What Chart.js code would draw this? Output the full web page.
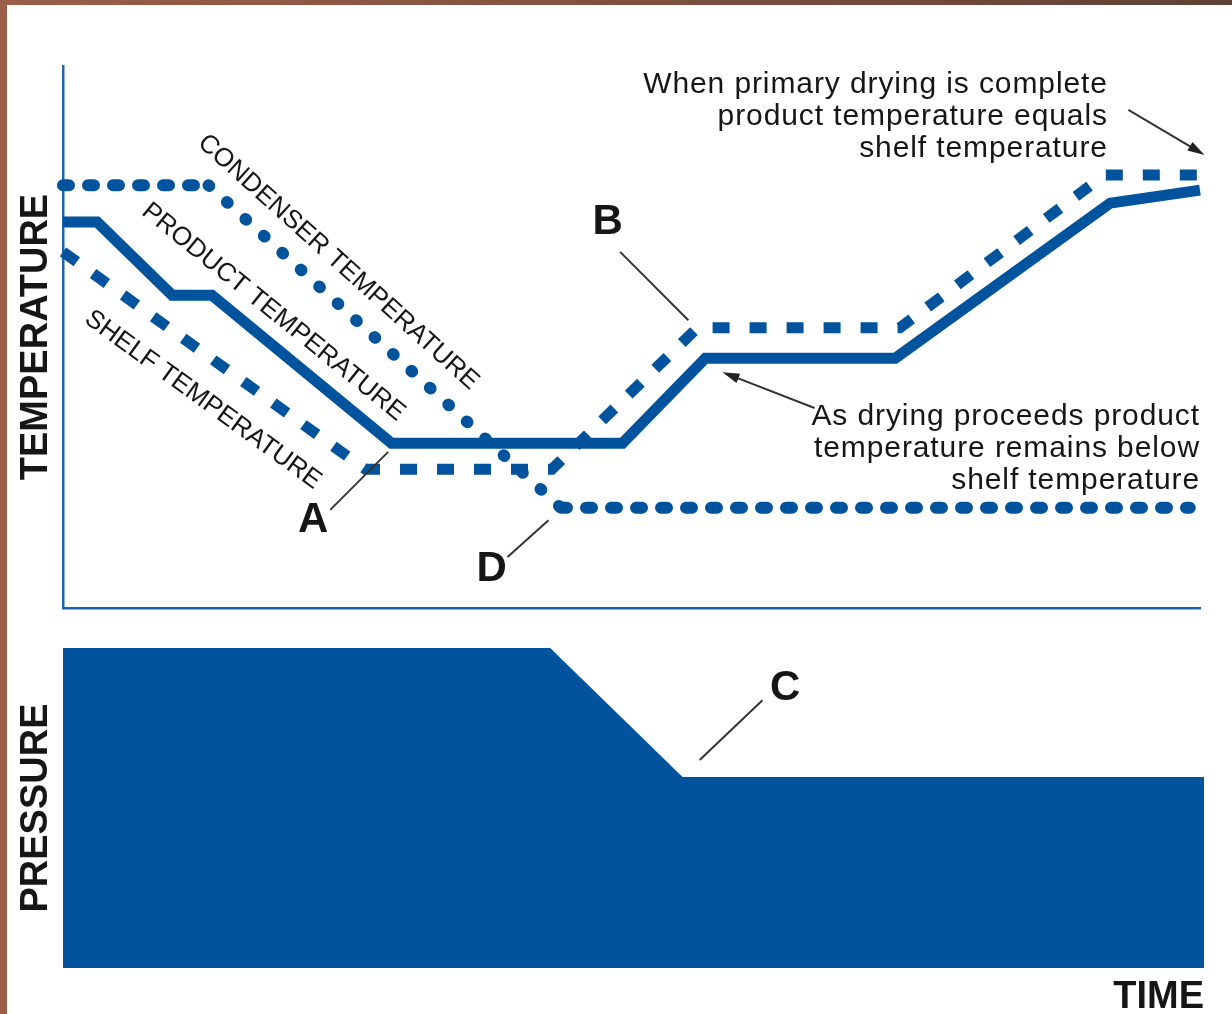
<!DOCTYPE html>
<html>
<head>
<meta charset="utf-8">
<title>Freeze drying cycle</title>
<script src="https://cdn.jsdelivr.net/npm/chart.js@4"></script>
<style>
  html, body { margin: 0; padding: 0; }
  body {
    width: 1232px; height: 1014px; overflow: hidden; position: relative;
    background: linear-gradient(90deg, #9b5e49, #8a5543 35%, #5f4236);
  }
  #sheet { position: absolute; left: 7px; top: 5px; width: 1225px; height: 1009px; background: #fff; }
  canvas { position: absolute; left: 0; }
  #tempChart { top: 0; }
  #pressureChart { top: 615px; }
</style>
</head>
<body>
<div id="sheet">
  <canvas id="tempChart" width="1225" height="615"></canvas>
  <canvas id="pressureChart" width="1225" height="394"></canvas>
</div>
<script>
// time runs 0..100, temperature and pressure 0..100 (no units on the original)
const shelfTime = [0, 26.6, 43.0, 55.8, 73.6, 91.6, 100];
const shelfTemp = [65.7, 25.6, 25.6, 51.7, 51.7, 79.9, 79.9];

const productTime = [0, 3.0, 9.6, 13.1, 28.9, 49.2, 56.5, 73.2, 92.1, 100];
const productTemp = [71.2, 71.2, 57.7, 57.7, 30.4, 30.4, 46.1, 46.1, 74.7, 77.1];

const condenserTime = [0, 12.8, 43.8, 99.1];
const condenserTemp = [78.0, 78.0, 18.5, 18.5];

const pressureTime = [0, 42.7, 54.3, 100];
const pressureValue = [100, 100, 59.7, 59.7];

const BLUE = '#00539c';
const AXIS = '#2263ad';
const INK = '#161616';
const FONT = "'Liberation Sans', Arial, sans-serif";

function points(xs, ys) {
    return xs.map((t, i) => ({ x: t, y: ys[i] }));
}

// notes for the temperature panel (positions in data units)
const tempNotes = {
    letters: [['A', 22.0, 16.1], ['B', 47.9, 71.2], ['D', 37.7, 7.2]],
    leaders: [[23.5, 18.1, 28.6, 28.8], [49.0, 65.7, 55.0, 53.1], [39.1, 9.4, 42.7, 16.2]],
    arrows: [[93.7, 91.9, 100.4, 83.6], [66.1, 36.9, 58.0, 43.5]],
    blocks: [
        { x: 91.9, y: [95.0, 89.1, 83.2], lines: ['When primary drying is complete', 'product temperature equals', 'shelf temperature'] },
        { x: 100, y: [33.8, 27.9, 22.0], lines: ['As drying proceeds product', 'temperature remains below', 'shelf temperature'] }
    ],
    curveLabels: [
        ['CONDENSER TEMPERATURE', 24.2, 63.8, 42],
        ['PRODUCT TEMPERATURE', 18.5, 54.6, 39],
        ['SHELF TEMPERATURE', 12.3, 38.4, 36]
    ]
};

const pressureNotes = {
    letters: [['C', 63.3, 87.5]],
    leaders: [[61.3, 83.7, 55.8, 65.0]],
    arrows: [], blocks: [], curveLabels: []
};

function notesPlugin(notes) {
    return {
        id: 'notes',
        afterDatasetsDraw(chart) {
            const { ctx, scales: { x, y } } = chart;
            const px = v => x.getPixelForValue(v);
            const py = v => y.getPixelForValue(v);
            ctx.save();
            ctx.strokeStyle = '#333';
            ctx.fillStyle = '#222';
            ctx.lineWidth = 2;
            notes.leaders.forEach(l => {
                ctx.beginPath();
                ctx.moveTo(px(l[0]), py(l[1]));
                ctx.lineTo(px(l[2]), py(l[3]));
                ctx.stroke();
            });
            notes.arrows.forEach(a => {
                const x1 = px(a[0]), y1 = py(a[1]), x2 = px(a[2]), y2 = py(a[3]);
                const ang = Math.atan2(y2 - y1, x2 - x1);
                ctx.beginPath();
                ctx.moveTo(x1, y1);
                ctx.lineTo(x2 - 10 * Math.cos(ang), y2 - 10 * Math.sin(ang));
                ctx.stroke();
                ctx.beginPath();
                ctx.moveTo(x2, y2);
                ctx.lineTo(x2 - 17 * Math.cos(ang) + 5 * Math.sin(ang), y2 - 17 * Math.sin(ang) - 5 * Math.cos(ang));
                ctx.lineTo(x2 - 17 * Math.cos(ang) - 5 * Math.sin(ang), y2 - 17 * Math.sin(ang) + 5 * Math.cos(ang));
                ctx.closePath();
                ctx.fill();
            });
            ctx.fillStyle = INK;
            ctx.font = 'bold 42px ' + FONT;
            ctx.textAlign = 'center';
            ctx.textBaseline = 'middle';
            notes.letters.forEach(l => ctx.fillText(l[0], px(l[1]), py(l[2])));

            // the original lettering is a touch wider than Liberation Sans
            ctx.font = '30px ' + FONT;
            ctx.letterSpacing = '0.9px';
            ctx.textAlign = 'right';
            ctx.textBaseline = 'alphabetic';
            notes.blocks.forEach(b => {
                b.lines.forEach((s, i) => ctx.fillText(s, px(b.x), py(b.y[i])));
            });
            ctx.letterSpacing = '0px';

            ctx.font = '26px ' + FONT;
            ctx.textAlign = 'center';
            ctx.textBaseline = 'middle';
            notes.curveLabels.forEach(c => {
                ctx.save();
                ctx.translate(px(c[1]), py(c[2]));
                ctx.rotate(c[3] * Math.PI / 180);
                ctx.fillText(c[0], 0, 0);
                ctx.restore();
            });
            ctx.restore();
        }
    };
}

function axisTitle(text) {
    return { display: true, text: text, color: INK, font: { family: FONT, size: 38, weight: 'bold', lineHeight: 1.2 }, padding: { top: 7, bottom: 0 } };
}

const tempChart = new Chart(document.getElementById('tempChart'), {
    type: 'line',
    data: {
        datasets: [
            {
                label: 'Condenser temperature',
                data: points(condenserTime, condenserTemp),
                borderColor: BLUE,
                borderWidth: 12,
                borderCapStyle: 'round',
                borderDash: [6, 19],
                segment: {
                    borderDash: c => c.p0.parsed.y === c.p1.parsed.y ? [6, 19] : [1, 24]
                },
                pointRadius: 0,
                clip: false
            },
            {
                label: 'Shelf temperature',
                data: points(shelfTime, shelfTemp),
                borderColor: BLUE,
                borderWidth: 11,
                borderCapStyle: 'butt',
                borderJoinStyle: 'miter',
                borderDash: [17, 20],
                pointRadius: 0,
                clip: false
            },
            {
                label: 'Product temperature',
                data: points(productTime, productTemp),
                borderColor: BLUE,
                borderWidth: 11,
                borderCapStyle: 'butt',
                borderJoinStyle: 'miter',
                pointRadius: 0,
                clip: false
            }
        ]
    },
    options: {
        responsive: false,
        animation: false,
        events: [],
        layout: { padding: { left: 0, right: 32, top: 61, bottom: 0 } },
        plugins: { legend: { display: false }, tooltip: { enabled: false } },
        scales: {
            x: {
                type: 'linear', min: 0, max: 100,
                grid: { display: false, drawTicks: false },
                ticks: { display: false },
                border: { display: true, color: AXIS, width: 2.5 },
                afterFit(scale) { scale.height = 12; }
            },
            y: {
                min: 0, max: 100,
                grid: { display: false, drawTicks: false },
                ticks: { display: false },
                border: { display: true, color: AXIS, width: 2.5 },
                title: axisTitle('TEMPERATURE'),
                afterFit(scale) { scale.width = 56; }
            }
        }
    },
    plugins: [notesPlugin(tempNotes)]
});

const pressureChart = new Chart(document.getElementById('pressureChart'), {
    type: 'line',
    data: {
        datasets: [{
            label: 'Pressure',
            data: points(pressureTime, pressureValue),
            borderWidth: 0,
            borderColor: BLUE,
            backgroundColor: BLUE,
            fill: 'origin',
            pointRadius: 0
        }]
    },
    options: {
        responsive: false,
        animation: false,
        events: [],
        layout: { padding: { left: 0, right: 28, top: 28, bottom: 0 } },
        plugins: { legend: { display: false }, tooltip: { enabled: false } },
        scales: {
            x: {
                type: 'linear', min: 0, max: 100,
                grid: { display: false, drawTicks: false },
                ticks: { display: false },
                border: { display: false },
                title: {
                    display: true, text: 'TIME', align: 'end', color: INK,
                    font: { family: FONT, size: 38, weight: 'bold', lineHeight: 0.8 },
                    padding: { top: 0, bottom: 1 }
                },
                afterFit(scale) { scale.height = 46; }
            },
            y: {
                min: 0, max: 100,
                grid: { display: false, drawTicks: false },
                ticks: { display: false },
                border: { display: false },
                title: axisTitle('PRESSURE'),
                afterFit(scale) { scale.width = 56; }
            }
        }
    },
    plugins: [notesPlugin(pressureNotes)]
});
</script>
</body>
</html>
